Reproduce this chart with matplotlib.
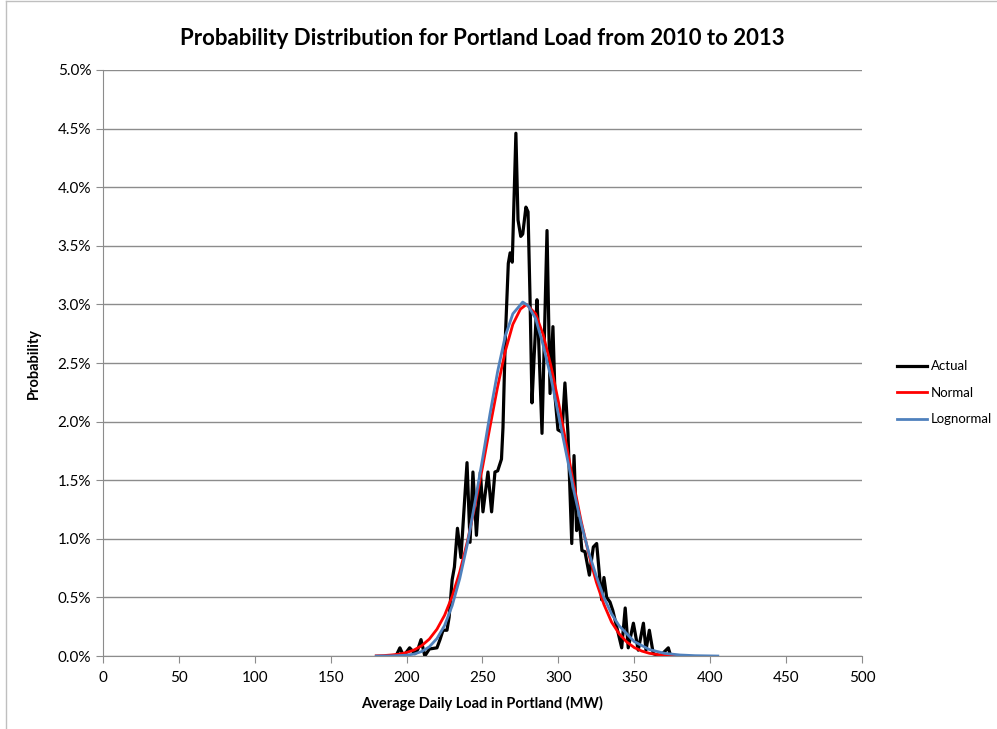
import numpy as np
import matplotlib
matplotlib.use('Agg')
import matplotlib.pyplot as plt
from matplotlib.lines import Line2D
from matplotlib.ticker import FuncFormatter, MultipleLocator

# DATA (load in MW, probability in %)
actual_x = [190, 193, 195.6, 198, 202, 205.5, 207.5, 209.5, 212, 215, 220, 222,
            224, 226.6, 228, 230, 231.5, 233.5, 235.8, 239.8, 241.8, 243.7, 246,
            248.6, 250.3, 253.6, 256, 258.2, 260, 262.5, 263.5, 265, 267, 268.2,
            269.6, 272, 273.4, 275.2, 276.5, 278.6, 280, 281.3, 282.6, 284,
            285.9, 286.6, 289.2, 292.5, 294.5, 296.4, 297.8, 299.7, 302.4,
            304.3, 306.3, 308.8, 310.3, 312, 313.6, 315.5, 317.5, 320.4, 323,
            325.2, 328.5, 330, 331.8, 334, 335.8, 339.5, 341.7, 344, 346, 349.4,
            352.6, 356, 357.7, 359.9, 362.5, 367, 372.4, 374, 378]
actual_y = [0.0, 0.0, 0.07, 0.0, 0.07, 0.02, 0.06, 0.14, 0.0, 0.06, 0.07, 0.14,
            0.22, 0.22, 0.33, 0.65, 0.76, 1.09, 0.84, 1.65, 0.97, 1.57, 1.03,
            1.57, 1.23, 1.57, 1.23, 1.57, 1.58, 1.68, 1.95, 2.70, 3.35, 3.44,
            3.36, 4.46, 3.72, 3.58, 3.60, 3.83, 3.79, 3.06, 2.16, 2.55,
            3.04, 2.84, 1.90, 3.63, 2.24, 2.81, 2.21, 1.93, 1.91,
            2.33, 1.90, 0.96, 1.71, 1.07, 1.18, 0.90, 0.89, 0.69, 0.93,
            0.96, 0.48, 0.67, 0.50, 0.46, 0.39, 0.19, 0.07, 0.41, 0.07, 0.28,
            0.05, 0.28, 0.05, 0.22, 0.02, 0.0, 0.07, 0.0, 0.0]

normal_x = [180, 185, 190, 195, 200, 205, 210, 215, 220, 225, 230, 235, 240,
            245, 250, 255, 260, 265, 270, 275, 279, 285, 290, 295, 300, 305,
            310, 315, 320, 325, 330, 335, 340, 345, 350, 355, 360, 365, 370,
            375, 380]
normal_y = [0.002, 0.004, 0.009, 0.016, 0.030, 0.052, 0.089, 0.145, 0.229,
            0.347, 0.508, 0.717, 0.974, 1.28, 1.61, 1.96, 2.30, 2.60, 2.83,
            2.96, 3.00, 2.92, 2.74, 2.48, 2.17, 1.82, 1.47, 1.15, 0.87, 0.63,
            0.44, 0.29, 0.19, 0.12, 0.072, 0.042, 0.023, 0.013, 0.007, 0.003,
            0.002]

lognormal_x = [180, 190, 200, 205, 210, 215, 220, 225, 230, 235, 240, 245, 250,
               255, 260, 265, 270, 276.5, 280, 285, 290, 295, 300, 305, 310,
               315, 320, 325, 330, 335, 340, 350, 360, 370, 380, 390, 405]
lognormal_y = [0.0, 0.001, 0.007, 0.017, 0.039, 0.079, 0.149, 0.26, 0.429,
               0.66, 0.953, 1.31, 1.68, 2.07, 2.43, 2.73, 2.92, 3.02, 2.99,
               2.88, 2.65, 2.38, 2.06, 1.74, 1.42, 1.13, 0.884, 0.68, 0.499,
               0.36, 0.258, 0.123, 0.055, 0.023, 0.009, 0.003, 0.0]

plt.rcParams['font.family'] = ['Lato', 'DejaVu Sans']

fig = plt.figure(figsize=(9.97, 7.29), dpi=100)
ax = fig.add_axes([0.1033, 0.1001, 0.7613, 0.8039])

ax.plot(actual_x, actual_y, color='black', lw=2.3, label='Actual',
        solid_joinstyle='round')
ax.plot(normal_x, normal_y, color='#ff0000', lw=2, label='Normal')
ax.plot(lognormal_x, lognormal_y, color='#4f81bd', lw=2, label='Lognormal')

ax.set_xlim(0, 500)
ax.set_ylim(0, 5.0)
ax.xaxis.set_major_locator(MultipleLocator(50))
ax.yaxis.set_major_locator(MultipleLocator(0.5))
ax.yaxis.set_major_formatter(FuncFormatter(lambda v, p: f'{v:.1f}%'))
ax.grid(axis='y', color='#8c8c8c', lw=1)
ax.set_axisbelow(True)

for s in ['top', 'right']:
  ax.spines[s].set_visible(False)
for s in ['left', 'bottom']:
  ax.spines[s].set_color('#8c8c8c')
ax.tick_params(axis='both', colors='#8c8c8c', length=5, labelcolor='black',
               labelsize=11)
ax.tick_params(axis='x', pad=6)

ax.set_title('Probability Distribution for Portland Load from 2010 to 2013',
             fontsize=16, fontweight='bold', pad=18)
ax.set_xlabel('Average Daily Load in Portland (MW)', fontsize=10.5,
              fontweight='bold', labelpad=8)
ax.set_ylabel('Probability', fontsize=10.5, fontweight='bold', labelpad=12)

ax.legend(loc='center left', bbox_to_anchor=(1.046, 0.449), frameon=False,
          fontsize=9.5, handlelength=2.3, handletextpad=0.3, labelspacing=1.1,
          borderpad=0, borderaxespad=0)

# chart area border
fig.add_artist(Line2D([0.006, 0.006], [0, 0.999], color='#bfbfbf', lw=1))
fig.add_artist(Line2D([0.006, 1.0], [0.999, 0.999], color='#bfbfbf', lw=1))

fig.savefig('out.png', dpi=100)
